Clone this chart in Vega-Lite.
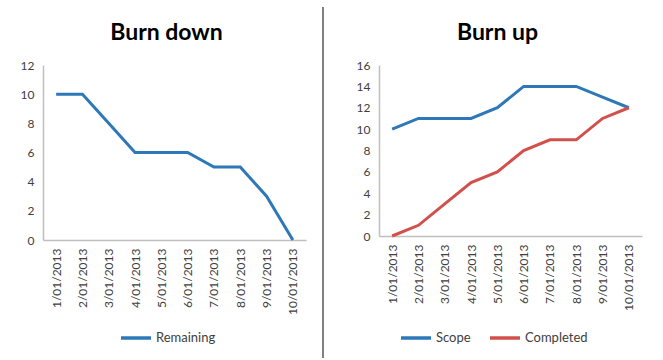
{
  "$schema": "https://vega.github.io/schema/vega-lite/v6.json",
  "padding": {"left": 20, "top": 5, "right": 5, "bottom": 4},
  "background": "white",
  "spacing": 15,
  "config": {
    "font": "Lato",
    "view": {"stroke": null},
    "axis": {"grid": false, "domainColor": "#bfbfbf", "domainWidth": 1.5, "labelColor": "#404040", "labelFont": "Lato", "labelFontSize": 12, "title": null},
    "legend": {"orient": "none", "direction": "horizontal", "symbolType": "stroke", "symbolSize": 900, "symbolStrokeWidth": 3.5, "labelFontSize": 13, "labelColor": "#404040", "labelFont": "Lato", "labelOffset": 3, "title": null, "columnPadding": 12},
    "title": {"font": "Lato", "fontSize": 23, "fontWeight": "bold", "color": "#000000", "anchor": "middle", "offset": 14}
  },
  "datasets": {
    "burn": [
      {"chart": "down", "date": "1/01/2013", "series": "Remaining", "value": 10},
      {"chart": "down", "date": "2/01/2013", "series": "Remaining", "value": 10},
      {"chart": "down", "date": "3/01/2013", "series": "Remaining", "value": 8},
      {"chart": "down", "date": "4/01/2013", "series": "Remaining", "value": 6},
      {"chart": "down", "date": "5/01/2013", "series": "Remaining", "value": 6},
      {"chart": "down", "date": "6/01/2013", "series": "Remaining", "value": 6},
      {"chart": "down", "date": "7/01/2013", "series": "Remaining", "value": 5},
      {"chart": "down", "date": "8/01/2013", "series": "Remaining", "value": 5},
      {"chart": "down", "date": "9/01/2013", "series": "Remaining", "value": 3},
      {"chart": "down", "date": "10/01/2013", "series": "Remaining", "value": 0},
      {"chart": "up", "date": "1/01/2013", "series": "Scope", "value": 10},
      {"chart": "up", "date": "2/01/2013", "series": "Scope", "value": 11},
      {"chart": "up", "date": "3/01/2013", "series": "Scope", "value": 11},
      {"chart": "up", "date": "4/01/2013", "series": "Scope", "value": 11},
      {"chart": "up", "date": "5/01/2013", "series": "Scope", "value": 12},
      {"chart": "up", "date": "6/01/2013", "series": "Scope", "value": 14},
      {"chart": "up", "date": "7/01/2013", "series": "Scope", "value": 14},
      {"chart": "up", "date": "8/01/2013", "series": "Scope", "value": 14},
      {"chart": "up", "date": "9/01/2013", "series": "Scope", "value": 13},
      {"chart": "up", "date": "10/01/2013", "series": "Scope", "value": 12},
      {"chart": "up", "date": "1/01/2013", "series": "Completed", "value": 0},
      {"chart": "up", "date": "2/01/2013", "series": "Completed", "value": 1},
      {"chart": "up", "date": "3/01/2013", "series": "Completed", "value": 3},
      {"chart": "up", "date": "4/01/2013", "series": "Completed", "value": 5},
      {"chart": "up", "date": "5/01/2013", "series": "Completed", "value": 6},
      {"chart": "up", "date": "6/01/2013", "series": "Completed", "value": 8},
      {"chart": "up", "date": "7/01/2013", "series": "Completed", "value": 9},
      {"chart": "up", "date": "8/01/2013", "series": "Completed", "value": 9},
      {"chart": "up", "date": "9/01/2013", "series": "Completed", "value": 11},
      {"chart": "up", "date": "10/01/2013", "series": "Completed", "value": 12}
    ],
    "divider": [{"top": 233, "bottom": -118, "x": 0}]
  },
  "hconcat": [
    {
      "title": {"text": "Burn down", "dx": -8},
      "width": 263,
      "height": 175,
      "data": {"name": "burn"},
      "transform": [{"filter": "datum.chart === 'down'"}],
      "mark": {"type": "line", "strokeWidth": 3},
      "encoding": {
        "x": {"field": "date", "type": "ordinal", "sort": null, "scale": {"type": "point", "padding": 0.5}, "axis": {"labelAngle": -90, "labelAlign": "right", "labelBaseline": "middle", "ticks": false, "labelPadding": 8}},
        "y": {"field": "value", "type": "quantitative", "scale": {"domain": [0, 12]}, "axis": {"values": [0, 2, 4, 6, 8, 10, 12], "ticks": false, "labelPadding": 9}},
        "color": {"field": "series", "type": "nominal", "scale": {"domain": ["Remaining"], "range": ["#2e78b7"]}, "legend": {"legendX": 76, "legendY": 256}}
      }
    },
    {
      "width": 17,
      "height": 175,
      "view": {"stroke": "transparent"},
      "data": {"name": "divider"},
      "mark": {"type": "rule", "color": "#808080", "strokeWidth": 2},
      "encoding": {
        "x": {"field": "x", "type": "quantitative", "scale": {"domain": [0, 17]}, "axis": null},
        "y": {"field": "top", "type": "quantitative", "scale": {"domain": [0, 175], "clamp": false}, "axis": null},
        "y2": {"field": "bottom"}
      }
    },
    {
      "title": {"text": "Burn up", "dx": -13},
      "width": 263,
      "height": 171,
      "data": {"name": "burn"},
      "transform": [{"filter": "datum.chart === 'up'"}],
      "mark": {"type": "line", "strokeWidth": 3},
      "encoding": {
        "x": {"field": "date", "type": "ordinal", "sort": null, "scale": {"type": "point", "padding": 0.5}, "axis": {"labelAngle": -90, "labelAlign": "right", "labelBaseline": "middle", "ticks": false, "labelPadding": 8}},
        "y": {"field": "value", "type": "quantitative", "scale": {"domain": [0, 16]}, "axis": {"values": [0, 2, 4, 6, 8, 10, 12, 14, 16], "ticks": false, "labelPadding": 9}},
        "color": {"field": "series", "type": "nominal", "sort": null, "scale": {"domain": ["Scope", "Completed"], "range": ["#2e78b7", "#d2504c"]}, "legend": {"legendX": 20, "legendY": 256}}
      }
    }
  ],
  "resolve": {"scale": {"color": "independent", "x": "independent", "y": "independent"}, "legend": {"color": "independent"}}
}
